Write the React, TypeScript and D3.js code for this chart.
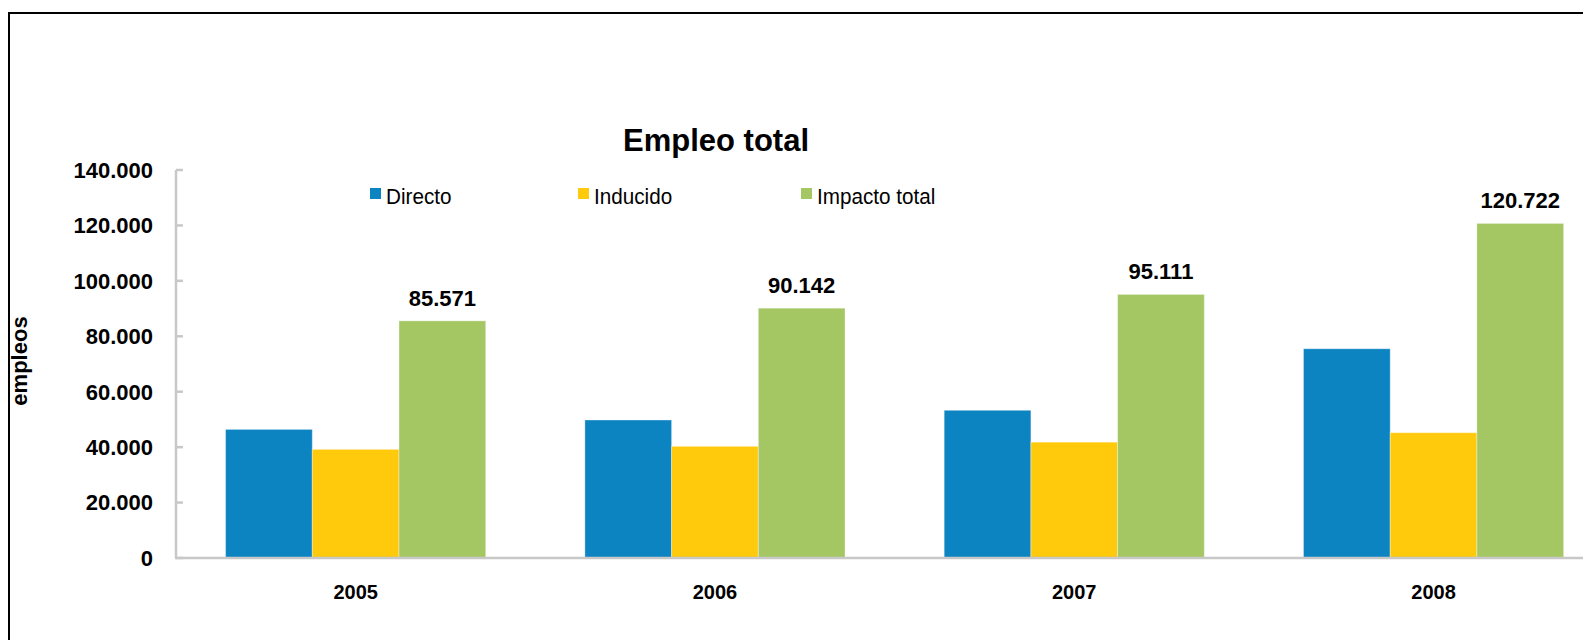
import React from "react";
import * as d3 from "d3";

const categories = ["2005", "2006", "2007", "2008"];
const seriesNames = ["Directo", "Inducido", "Impacto total"];
const directo = [46400, 49800, 53300, 75500];
const inducido = [39200, 40300, 41800, 45200];
const impactoTotal = [85571, 90142, 95111, 120722];
const totalLabels = ["85.571", "90.142", "95.111", "120.722"];
const yTicks = [0, 20000, 40000, 60000, 80000, 100000, 120000, 140000];
const colors = ["#0d84c2", "#ffc90c", "#a4c764"];

const W = 1583;
const H = 640;
const FONT = "'Liberation Sans', Arial, Helvetica, sans-serif";

export default function App() {
  const left = 176;
  const band = 359.3;
  const x0 = d3
    .scaleBand<string>()
    .domain(categories)
    .range([left, left + band * categories.length])
    .paddingInner(0.276)
    .paddingOuter(0.138);
  const x1 = d3.scaleBand<string>().domain(seriesNames).range([0, x0.bandwidth()]);
  const y = d3.scaleLinear().domain([0, 140000]).range([558, 170]);
  const fmt = (v: number) => d3.format(",")(v).replace(/,/g, ".");
  const series = [directo, inducido, impactoTotal];
  const legendX = [370, 578, 801];

  return (
    <div style={{ position: "fixed", left: 0, top: 0, width: W, height: H, overflow: "hidden", background: "#fff" }}>
      <svg width={W} height={H} style={{ display: "block" }} fontFamily={FONT}>
        <rect x={0} y={0} width={W} height={H} fill="#fff" />
        <rect x={9} y={13} width={1700} height={800} fill="none" stroke="#000" strokeWidth={2} />
        <text x={716} y={151} textAnchor="middle" fontSize={31} fontWeight="bold" fill="#000">
          Empleo total
        </text>
        {/* legend */}
        {seriesNames.map((s, i) => (
          <g key={s}>
            <rect x={legendX[i]} y={188} width={11} height={11} fill={colors[i]} />
            <text
              transform={`translate(${legendX[i] + 16},203.5) scale(0.94,1)`}
              fontSize={22}
              fill="#000"
            >
              {s}
            </text>
          </g>
        ))}
        {/* y axis label */}
        <text
          transform={`translate(27,361) rotate(-90)`}
          textAnchor="middle"
          fontSize={22}
          fontWeight="bold"
          fill="#000"
        >
          empleos
        </text>
        {/* bars */}
        {categories.map((c, ci) => (
          <g key={c} transform={`translate(${x0(c)},0)`}>
            {series.map((vals, si) => (
              <rect
                key={si}
                x={x1(seriesNames[si])}
                y={y(vals[ci])}
                width={x1.bandwidth()}
                height={y(0) - y(vals[ci])}
                fill={colors[si]}
                stroke="rgba(255,255,255,0.35)"
                strokeWidth={1}
              />
            ))}
            <text
              x={(x1("Impacto total") as number) + x1.bandwidth() / 2}
              y={y(impactoTotal[ci]) - 15}
              textAnchor="middle"
              fontSize={22}
              fontWeight="bold"
              fill="#000"
            >
              {totalLabels[ci]}
            </text>
            <text x={x0.bandwidth() / 2} y={599} textAnchor="middle" fontSize={20} fontWeight="bold" fill="#000">
              {c}
            </text>
          </g>
        ))}
        {/* axes */}
        <line x1={left} x2={left} y1={y(140000)} y2={y(0)} stroke="#c8c8c8" strokeWidth={2.5} />
        <line x1={left - 1} x2={W + 50} y1={y(0)} y2={y(0)} stroke="#c8c8c8" strokeWidth={2.5} />
        {yTicks.map((t) => (
          <g key={t}>
            <line x1={left} x2={left + 7} y1={y(t)} y2={y(t)} stroke="#c8c8c8" strokeWidth={2.5} />
            <text x={153} y={y(t)} dy="0.36em" textAnchor="end" fontSize={22} fontWeight="bold" fill="#000">
              {fmt(t)}
            </text>
          </g>
        ))}
      </svg>
    </div>
  );
}
